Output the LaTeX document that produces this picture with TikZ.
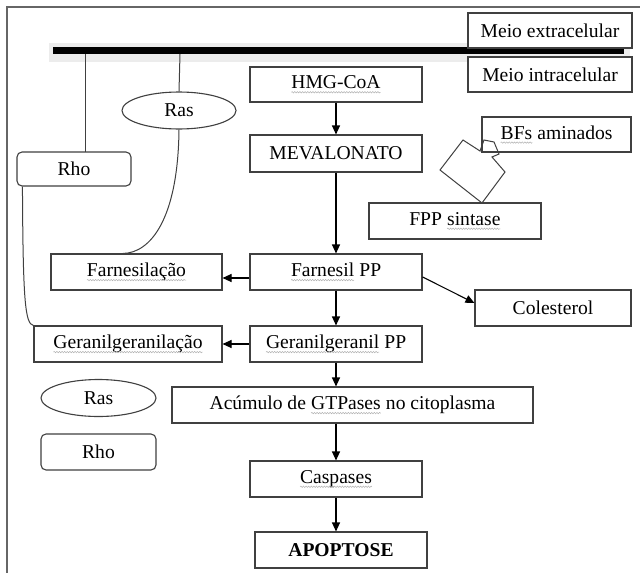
\documentclass[tikz,border=0pt]{standalone}
\usepackage{fontspec}
\setmainfont{Liberation Serif}
\usetikzlibrary{arrows.meta,shapes.geometric,decorations.pathmorphing}
\newcommand\squig[1]{\tikz[baseline=(sq.base)]{\node[draw=none,fill=none,rectangle,inner sep=0pt,outer sep=0pt,minimum width=0pt,minimum height=0pt] (sq) {#1}; \draw[gray!60, line width=0.5pt, decorate, decoration={snake, amplitude=0.7pt, segment length=2.6pt}] ([yshift=-3.5pt]sq.base west) -- ([yshift=-3.5pt]sq.base east);}}
\tikzset{
  box/.style={draw=black!75, line width=1.1pt, fill=white, rectangle, inner sep=0pt, font=\fontsize{19.6}{22}\selectfont},
  rbox/.style={box, rounded corners=5pt},
  oval/.style={draw=black!75, line width=1.1pt, fill=white, ellipse, inner sep=0pt, font=\fontsize{19.6}{22}\selectfont},
  arr/.style={line width=1.1pt, -{Triangle[length=9pt,width=8pt]}},
  link/.style={draw=black!75, line width=1pt},
}
\begin{document}
\begin{tikzpicture}[x=1pt,y=-1pt]
\useasboundingbox (0,0) rectangle (640,573);
\fill[white] (0,0) rectangle (640,573);
% frame
\draw[black!60, line width=1.3pt] (7,580) -- (7,7) -- (645,7);
% membrane
\fill[gray!15] (49,43) rectangle (630,62);
\fill[black] (53,47) rectangle (624,54);
\coordinate (m1) at (85,54);
\coordinate (m2) at (180,54);
% boxes
\node[box, minimum width=164pt, minimum height=35pt] (ext) at (550,30.5) {Meio extracelular};
\node[box, minimum width=164pt, minimum height=35pt] (int) at (550,74.5) {Meio intracelular};
\node[box, minimum width=172pt, minimum height=35pt] (hmg) at (336,84.5) {\squig{HMG-CoA}};
\node[box, minimum width=172pt, minimum height=37pt] (mev) at (336,153.5) {MEVALONATO};
\node[box, minimum width=149pt, minimum height=35pt] (bfs) at (556.5,134.5) {\squig{BFs} aminados};
\node[box, minimum width=172pt, minimum height=36pt] (fpp) at (455,221) {FPP \squig{sintase}};
\node[box, minimum width=171pt, minimum height=36pt] (farn) at (136.5,272) {\squig{Farnesilação}};
\node[box, minimum width=172pt, minimum height=36pt] (fpp2) at (336,272) {\squig{Farnesil} PP};
\node[box, minimum width=156pt, minimum height=36pt] (col) at (553,308) {Colesterol};
\node[box, minimum width=188pt, minimum height=36pt] (ger) at (128,344) {\squig{Geranilgeranilação}};
\node[box, minimum width=172pt, minimum height=36pt] (gpp) at (336,344) {\squig{Geranilgeranil} PP};
\node[box, minimum width=361pt, minimum height=36pt] (acu) at (352.5,405) {Acúmulo de \squig{GTPases} no citoplasma};
\node[box, minimum width=172pt, minimum height=36pt] (cas) at (336,479) {\squig{Caspases}};
\node[box, minimum width=172pt, minimum height=36pt, font=\fontsize{19.6}{22}\selectfont\bfseries] (apo) at (341,550) {APOPTOSE};
% Ras / Rho
\node[oval, minimum width=114pt, minimum height=37pt] (ras1) at (179,110.5) {Ras};
\node[rbox, minimum width=114pt, minimum height=34pt] (rho1) at (74,169) {Rho};
\node[oval, minimum width=115pt, minimum height=37pt] (ras2) at (98.5,398) {Ras};
\node[rbox, minimum width=115pt, minimum height=36pt] (rho2) at (98.5,452) {Rho};
% links to membrane
\draw[link] (m1) -- (85,152);
\draw[link] (m2) -- (ras1.north);
\draw[link] (ras1.south) .. controls (178,220) and (150,253) .. (farn.north -| 123,0);
\draw[link] (rho1.south west) ++(6,0) .. controls (23,300) and (25,324) .. (ger.north west);
% enzyme shape
\draw[black!75, line width=1pt] (440,170) -- (463,140) -- (480,151) -- (484,140) -- (494,142) -- (499,154) -- (492,157) -- (505,172) -- (482,203) -- cycle;
% arrows
\draw[arr] (hmg.south) -- (mev.north);
\draw[arr] (mev.south) -- (fpp2.north);
\draw[arr] (fpp2.south) -- (gpp.north);
\draw[arr] (fpp2.west |- 0,278) -- (farn.east |- 0,278);
\draw[arr] (gpp.west) -- (ger.east);
\draw[arr] (fpp2.east |- 0,277) -- (col.west |- 0,303);
\draw[arr] (gpp.south) -- (acu.north -| gpp.south);
\draw[arr] (acu.south -| cas.north) -- (cas.north);
\draw[arr] (cas.south) -- (cas.south |- apo.north);
\end{tikzpicture}
\end{document}
